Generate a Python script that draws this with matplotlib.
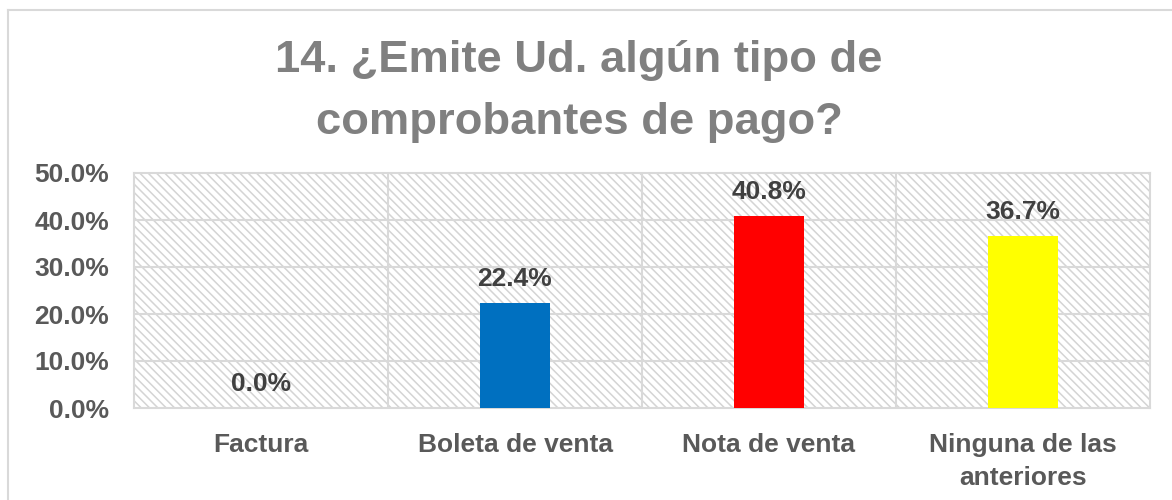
import matplotlib.pyplot as plt
from matplotlib.patches import Rectangle
from matplotlib.lines import Line2D
import numpy as np

plt.rcParams['font.family'] = ['Liberation Sans', 'DejaVu Sans']
plt.rcParams['hatch.color'] = '#d4d4d4'
plt.rcParams['hatch.linewidth'] = 1.1

categories = ["Factura", "Boleta de venta", "Nota de venta", "Ninguna de las\nanteriores"]
values = [0.0, 22.4, 40.8, 36.7]
bar_colors = ['#0070C0', '#0070C0', '#FF0000', '#FFFF00']
y_ticks = [0, 10, 20, 30, 40, 50]
title = "14. ¿Emite Ud. algún tipo de\ncomprobantes de pago?"

W, H = 1172, 500
fig = plt.figure(figsize=(W / 100, H / 100), dpi=100)

# chart frame: only the top and left edges are inside the picture
fig.lines.append(Line2D([8 / W, 8 / W], [0, 1 - 10 / H], transform=fig.transFigure,
                        color='#d9d9d9', linewidth=1.5))
fig.lines.append(Line2D([8 / W, 1], [1 - 10 / H, 1 - 10 / H], transform=fig.transFigure,
                        color='#d9d9d9', linewidth=1.5))

ax = fig.add_axes([134 / W, 1 - 408 / H, (1150 - 134) / W, (408 - 173) / H])

# hatched plot area background
ax.add_patch(Rectangle((0, 0), 1, 1, transform=ax.transAxes, facecolor='white',
                       hatch='\\\\\\\\', edgecolor='#d4d4d4', linewidth=0, zorder=0))

x = np.arange(len(categories))
ax.bar(x, values, width=0.276, color=bar_colors, zorder=3)

for xi, v in zip(x, values):
    ax.text(xi, v + 2.5, f'{v:.1f}%', ha='center', va='bottom', fontsize=19,
            fontweight='bold', color='#404040', zorder=4)

ax.set_xlim(-0.5, len(categories) - 0.5)
ax.set_ylim(0, 50)
ax.set_yticks(y_ticks)
ax.set_yticklabels([f'{t:.1f}%' for t in y_ticks], fontsize=19, fontweight='bold', color='#595959')
ax.set_xticks(x)
ax.set_xticklabels(categories, fontsize=19, fontweight='bold', color='#595959', linespacing=1.45)
ax.tick_params(axis='both', length=0)
ax.tick_params(axis='x', pad=18)
ax.tick_params(axis='y', pad=18)

# gridlines
for t in y_ticks[1:-1]:
    ax.axhline(t, color='#d9d9d9', linewidth=1.5, zorder=1)
for b in np.arange(0.5, len(categories) - 0.5, 1):
    ax.axvline(b, color='#d9d9d9', linewidth=1.5, zorder=1)
for s in ax.spines.values():
    s.set_color('#d9d9d9')
    s.set_linewidth(1.5)

fig.text(0.494, 1 - 40 / H, title, ha='center', va='top', fontsize=32.7, fontweight='bold',
         color='#808080', linespacing=1.65)

fig.savefig('out.png', dpi=100)
